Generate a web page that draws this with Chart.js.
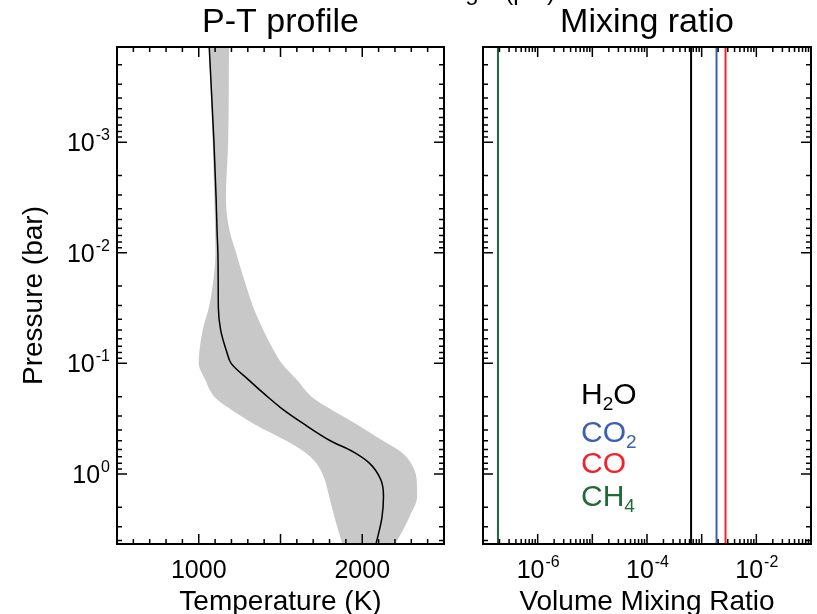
<!DOCTYPE html>
<html>
<head>
<meta charset="utf-8">
<script src="https://cdn.jsdelivr.net/npm/chart.js@4.4.1/dist/chart.umd.min.js"></script>
<style>
html, body { margin: 0; padding: 0; background: #fff; }
#wrap { position: relative; width: 817px; height: 614px; overflow: hidden; }
#wrap canvas { position: absolute; left: 0; top: 0; }
</style>
</head>
<body>
<div id="wrap">
  <canvas id="ptChart" width="817" height="614"></canvas>
  <canvas id="mixChart" width="817" height="614"></canvas>
</div>
<script>
// ===== data =====
const pressure   = [1.38e-4, 1e-3, 3.16e-3, 6.31e-3, 1e-2, 2e-2, 3.16e-2, 5.01e-2, 7.94e-2, 0.1,
                    0.141, 0.2, 0.251, 0.355, 0.501, 0.631, 0.794, 1.122, 1.585, 2.512, 4.365];
const tempMedian = [1064, 1093, 1106, 1112, 1117, 1119, 1120, 1134, 1172, 1198,
                    1305, 1420, 1500, 1645, 1805, 1945, 2042, 2113, 2130, 2120, 2083];
const tempLow    = [1062, 1085, 1095, 1100, 1102, 1085, 1061, 1024, 1003, 1000,
                    1040, 1095, 1180, 1340, 1535, 1645, 1717, 1770, 1797, 1832, 1880];
const tempHigh   = [1185, 1180, 1166, 1188, 1228, 1290, 1335, 1395, 1465, 1507,
                    1600, 1690, 1790, 1965, 2127, 2236, 2297, 2333, 2336, 2285, 2200];

const species      = ['H2O', 'CO2', 'CO', 'CH4'];
const speciesVmr   = [6.4e-4, 1.87e-3, 2.73e-3, 1.88e-7];
const speciesColor = ['#000000', '#3b5fb3', '#f0232b', '#1f6b36'];

const tempRange     = [500, 2500];
const pressureRange = [1.38e-4, 4.3];
const vmrRange      = [1e-7, 1e-1];

const tempLabels     = [1000, 2000];
const pressureLabels = [-3, -2, -1, 0];   // exponents
const vmrLabels      = [-6, -4, -2];

const FONT = "'Liberation Sans', Arial, Helvetica, sans-serif";

// ===== helpers =====
function toPoints(temps) {
    return pressure.map((p, i) => ({ x: temps[i], y: p }));
}

function logTicks(min, max) {
    const out = [];
    for (let d = Math.floor(Math.log10(min)); d <= Math.ceil(Math.log10(max)); d++) {
        for (let k = 1; k <= 9; k++) {
            const v = k * Math.pow(10, d);
            if (v >= min * 0.999 && v <= max * 1.001) out.push({ v: v, major: k === 1 });
        }
    }
    return out;
}

function linTicks(min, max, step, majorStep) {
    const out = [];
    for (let v = min; v <= max; v += step) out.push({ v: v, major: v % majorStep === 0 });
    return out;
}

// "10" with raised exponent
function drawPow(ctx, exp, x, y, align) {
    ctx.font = '25px ' + FONT;
    const wb = ctx.measureText('10').width;
    ctx.font = '16px ' + FONT;
    const we = ctx.measureText(String(exp)).width;
    let x0 = x;
    if (align === 'center') x0 = x - (wb + we) / 2;
    if (align === 'right') x0 = x - (wb + we);
    ctx.textAlign = 'left';
    ctx.textBaseline = 'alphabetic';
    ctx.font = '25px ' + FONT;
    ctx.fillText('10', x0, y);
    ctx.font = '16px ' + FONT;
    ctx.fillText(String(exp), x0 + wb + 1, y - 11);
}

// name with digits as subscripts, e.g. H2O, CH4
function drawFormula(ctx, name, x, y, color) {
    ctx.fillStyle = color;
    ctx.textAlign = 'left';
    ctx.textBaseline = 'alphabetic';
    let cx = x;
    for (const ch of name) {
        if (/[0-9]/.test(ch)) {
            ctx.font = '19px ' + FONT;
            ctx.fillText(ch, cx, y + 6);
        } else {
            ctx.font = '30px ' + FONT;
            ctx.fillText(ch, cx, y);
        }
        cx += ctx.measureText(ch).width;
    }
}

// IDL-style frame: box, inward ticks on all sides, labels and titles
const idlAxes = {
    id: 'idlAxes',
    afterDraw(chart, args, opts) {
        const { ctx, chartArea: a, scales: { x, y } } = chart;
        ctx.save();
        ctx.strokeStyle = '#000';
        ctx.fillStyle = '#000';

        ctx.lineWidth = 1.5;
        opts.xTicks.forEach(t => {
            const px = x.getPixelForValue(t.v);
            const len = t.major ? 10 : 5;
            ctx.beginPath();
            ctx.moveTo(px, a.bottom); ctx.lineTo(px, a.bottom - len);
            ctx.moveTo(px, a.top); ctx.lineTo(px, a.top + len);
            ctx.stroke();
        });
        opts.yTicks.forEach(t => {
            const py = y.getPixelForValue(t.v);
            const len = t.major ? 10 : 5;
            ctx.beginPath();
            ctx.moveTo(a.left, py); ctx.lineTo(a.left + len, py);
            ctx.moveTo(a.right, py); ctx.lineTo(a.right - len, py);
            ctx.stroke();
        });

        ctx.lineWidth = 2;
        ctx.strokeRect(a.left, a.top, a.right - a.left, a.bottom - a.top);

        // x tick labels
        opts.xLabels.forEach(l => {
            const px = x.getPixelForValue(l.v);
            if (l.pow !== undefined) {
                drawPow(ctx, l.pow, px, 578, 'center');
            } else {
                ctx.font = '25px ' + FONT;
                ctx.textAlign = 'center';
                ctx.textBaseline = 'alphabetic';
                ctx.fillText(String(l.v), px, 578);
            }
        });
        // y tick labels
        (opts.yLabels || []).forEach(e => {
            const py = y.getPixelForValue(Math.pow(10, e));
            drawPow(ctx, e, 109, py + 9, 'right');
        });

        const cxm = (a.left + a.right) / 2;
        ctx.textAlign = 'center';
        ctx.textBaseline = 'alphabetic';
        ctx.font = '34px ' + FONT;
        ctx.fillText(opts.title, cxm, 32);
        ctx.font = '28px ' + FONT;
        ctx.fillText(opts.xTitle, cxm, 610);

        if (opts.yTitle) {
            ctx.save();
            ctx.translate(42, (a.top + a.bottom) / 2);
            ctx.rotate(-Math.PI / 2);
            ctx.fillText(opts.yTitle, 0, 0);
            ctx.restore();
        }
        if (opts.topText) {
            ctx.font = '24px ' + FONT;
            ctx.textAlign = 'right';
            ctx.fillText(opts.topText, 555, 0);
        }
        if (opts.legend) {
            species.forEach((s, i) => drawFormula(ctx, s, 581, 404 + [0, 38, 69, 102][i], speciesColor[i]));
        }
        ctx.restore();
    }
};

function hiddenScale(type, min, max, extra) {
    return Object.assign({
        type: type, min: min, max: max,
        grid: { display: false },
        border: { display: false },
        ticks: { display: false }
    }, extra);
}

// ===== left panel: P-T profile =====
new Chart(document.getElementById('ptChart'), {
    type: 'line',
    data: {
        datasets: [
            { label: 'low', data: toPoints(tempLow), borderColor: 'rgba(0,0,0,0)', borderWidth: 0,
              pointRadius: 0, fill: false, order: 2 },
            { label: 'high', data: toPoints(tempHigh), borderColor: 'rgba(0,0,0,0)', borderWidth: 0,
              pointRadius: 0, fill: '-1', backgroundColor: '#c8c8c8', order: 2 },
            { label: 'median', data: toPoints(tempMedian), borderColor: '#000', borderWidth: 1.5,
              pointRadius: 0, fill: false, order: 0 }
        ]
    },
    options: {
        indexAxis: 'y',
        responsive: false,
        animation: false,
        devicePixelRatio: 1,
        elements: { line: { cubicInterpolationMode: 'monotone' } },
        layout: { padding: { top: 47, right: 373, left: 0, bottom: 0 } },
        scales: {
            x: hiddenScale('linear', tempRange[0], tempRange[1], { afterFit: s => { s.height = 70; } }),
            y: hiddenScale('logarithmic', pressureRange[0], pressureRange[1],
                           { reverse: true, afterFit: s => { s.width = 117; } })
        },
        plugins: {
            legend: { display: false },
            tooltip: { enabled: false },
            idlAxes: {
                xTicks: linTicks(tempRange[0], tempRange[1], 100, 500),
                yTicks: logTicks(pressureRange[0], pressureRange[1]),
                xLabels: tempLabels.map(v => ({ v: v })),
                yLabels: pressureLabels,
                title: 'P-T profile',
                xTitle: 'Temperature (K)',
                yTitle: 'Pressure (bar)',
                topText: 'Wavelength (\u03bcm)'
            }
        }
    },
    plugins: [idlAxes]
});

// ===== right panel: mixing ratios =====
new Chart(document.getElementById('mixChart'), {
    type: 'line',
    data: {
        datasets: species.map((s, i) => ({
            label: s,
            data: [{ x: speciesVmr[i], y: pressureRange[0] }, { x: speciesVmr[i], y: pressureRange[1] }],
            borderColor: speciesColor[i],
            borderWidth: 2,
            pointRadius: 0,
            fill: false
        }))
    },
    options: {
        indexAxis: 'y',
        responsive: false,
        animation: false,
        devicePixelRatio: 1,
        layout: { padding: { top: 47, right: 6, left: 0, bottom: 0 } },
        scales: {
            x: hiddenScale('logarithmic', vmrRange[0], vmrRange[1], { afterFit: s => { s.height = 70; } }),
            y: hiddenScale('logarithmic', pressureRange[0], pressureRange[1],
                           { reverse: true, afterFit: s => { s.width = 483; } })
        },
        plugins: {
            legend: { display: false },
            tooltip: { enabled: false },
            idlAxes: {
                xTicks: logTicks(vmrRange[0], vmrRange[1]),
                yTicks: logTicks(pressureRange[0], pressureRange[1]),
                xLabels: vmrLabels.map(e => ({ v: Math.pow(10, e), pow: e })),
                title: 'Mixing ratio',
                xTitle: 'Volume Mixing Ratio',
                legend: true
            }
        }
    },
    plugins: [idlAxes]
});
</script>
</body>
</html>
